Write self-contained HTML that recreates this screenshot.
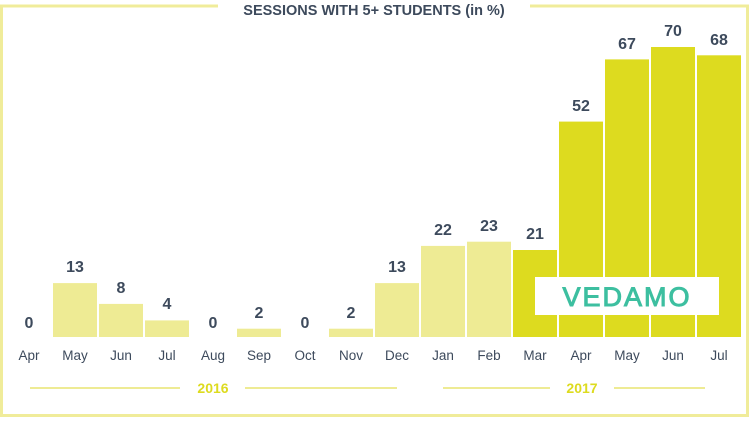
<!DOCTYPE html>
<html><head><style>
body{margin:0;width:749px;height:417px;overflow:hidden;background:#fff;font-family:"Liberation Sans",sans-serif}
</style></head><body>
<svg width="749" height="417" xmlns="http://www.w3.org/2000/svg" font-family="Liberation Sans, sans-serif">
<rect x="1.5" y="6" width="746" height="409.5" fill="none" stroke="#f0ec9a" stroke-width="3"/>
<rect x="218" y="3" width="312" height="6" fill="#fff"/>
<text x="374" y="15" text-anchor="middle" font-size="14.5" font-weight="bold" fill="#3d4a5c">SESSIONS WITH 5+ STUDENTS (in %)</text>
<g fill="#eeeb94">
<rect x="53" y="283.1" width="44" height="53.9"/>
<rect x="99" y="303.9" width="44" height="33.1"/>
<rect x="145" y="320.4" width="44" height="16.6"/>
<rect x="237" y="328.7" width="44" height="8.3"/>
<rect x="329" y="328.7" width="44" height="8.3"/>
<rect x="375" y="283.1" width="44" height="53.9"/>
<rect x="421" y="245.9" width="44" height="91.1"/>
<rect x="467" y="241.7" width="44" height="95.3"/>
</g>
<g fill="#dddb1f">
<rect x="513" y="250" width="44" height="87"/>
<rect x="559" y="121.6" width="44" height="215.4"/>
<rect x="605" y="59.4" width="44" height="277.6"/>
<rect x="651" y="47" width="44" height="290"/>
<rect x="697" y="55.3" width="44" height="281.7"/>
</g>
<g font-size="16" font-weight="bold" fill="#3d4a5c" text-anchor="middle">
<text x="29" y="328">0</text>
<text x="75" y="272">13</text>
<text x="121" y="293">8</text>
<text x="167" y="309">4</text>
<text x="213" y="328">0</text>
<text x="259" y="318">2</text>
<text x="305" y="328">0</text>
<text x="351" y="318">2</text>
<text x="397" y="272">13</text>
<text x="443" y="235">22</text>
<text x="489" y="231">23</text>
<text x="535" y="239">21</text>
<text x="581" y="111">52</text>
<text x="627" y="49">67</text>
<text x="673" y="36">70</text>
<text x="719" y="45">68</text>
</g>
<g font-size="13.5" fill="#3d4a5c" text-anchor="middle">
<text x="29" y="360">Apr</text>
<text x="75" y="360">May</text>
<text x="121" y="360">Jun</text>
<text x="167" y="360">Jul</text>
<text x="213" y="360">Aug</text>
<text x="259" y="360">Sep</text>
<text x="305" y="360">Oct</text>
<text x="351" y="360">Nov</text>
<text x="397" y="360">Dec</text>
<text x="443" y="360">Jan</text>
<text x="489" y="360">Feb</text>
<text x="535" y="360">Mar</text>
<text x="581" y="360">Apr</text>
<text x="627" y="360">May</text>
<text x="673" y="360">Jun</text>
<text x="719" y="360">Jul</text>
</g>
<rect x="535" y="277" width="184" height="38" fill="#fff"/>
<text x="627" y="306" text-anchor="middle" font-size="27" fill="#3dbfa0" stroke="#3dbfa0" stroke-width="1" letter-spacing="2">VEDAMO</text>
<line x1="30" y1="388" x2="180" y2="388" stroke="#eeeb94" stroke-width="2"/>
<line x1="245" y1="388" x2="397" y2="388" stroke="#eeeb94" stroke-width="2"/>
<line x1="443" y1="388" x2="550" y2="388" stroke="#eeeb94" stroke-width="2"/>
<line x1="614" y1="388" x2="705" y2="388" stroke="#eeeb94" stroke-width="2"/>
<text x="213" y="393" text-anchor="middle" font-size="14" font-weight="bold" fill="#dddb1f">2016</text>
<text x="582" y="393" text-anchor="middle" font-size="14" font-weight="bold" fill="#dddb1f">2017</text>
</svg>
</body></html>
